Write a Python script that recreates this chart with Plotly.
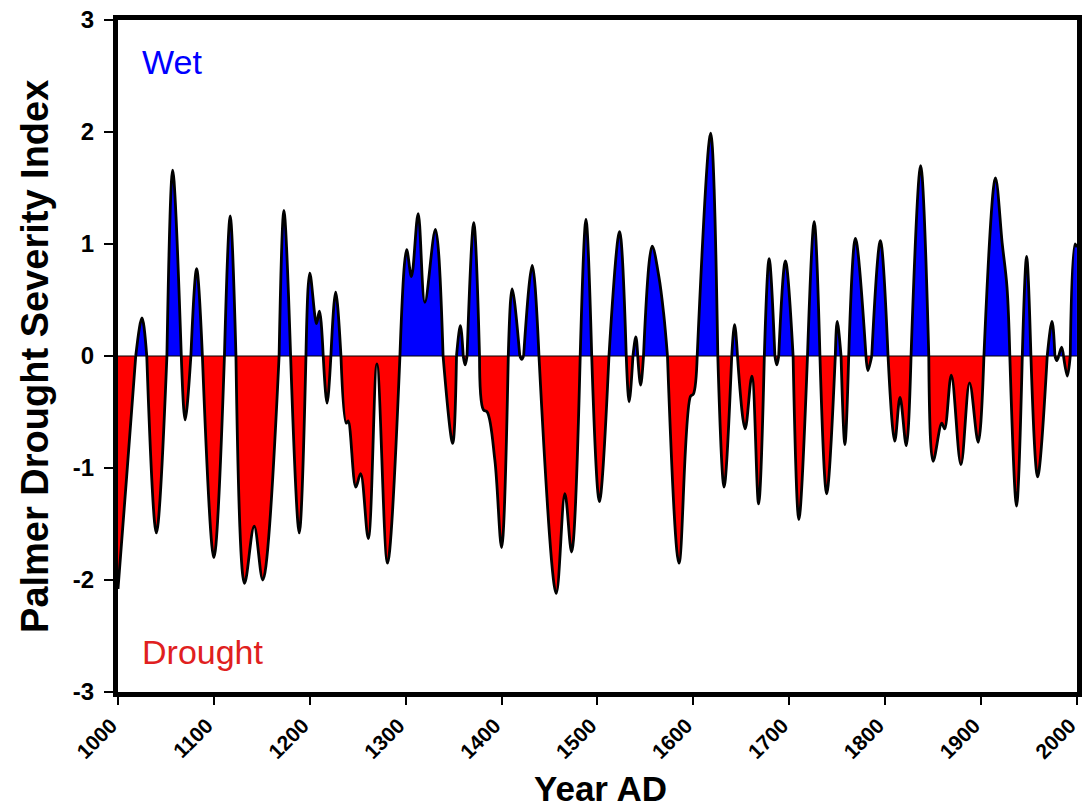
import plotly.graph_objects as go

# Reconstructed Palmer Drought Severity Index, 1000-2000 AD (smoothed)
years = [
    1000, 1009, 1018.5, 1025, 1030, 1040, 1051, 1057, 1066, 1070, 1076, 1082, 1088,
    1100, 1111, 1117, 1123, 1132, 1142, 1151, 1168, 1173, 1180, 1189, 1196,
    1200, 1207, 1210, 1214, 1218, 1222, 1227, 1232.5, 1238, 1240, 1248, 1253,
    1261, 1270, 1281, 1294, 1301, 1306, 1313, 1320, 1331, 1339, 1349, 1353,
    1357, 1360, 1362, 1364, 1371, 1377, 1381, 1385, 1393, 1400, 1407, 1411,
    1419, 1421, 1423, 1432, 1439, 1457, 1466, 1473, 1482, 1488, 1494, 1502,
    1512, 1523, 1530, 1533, 1537, 1540, 1542, 1545, 1548, 1557, 1564, 1569,
    1573, 1585, 1597, 1600, 1604, 1618, 1625.5, 1632, 1640, 1643, 1646, 1654,
    1661, 1668, 1674, 1679, 1685, 1687, 1689, 1696, 1704, 1710, 1719, 1726,
    1732, 1739, 1748, 1750, 1754, 1758, 1762, 1769, 1780, 1782, 1786, 1795,
    1803, 1810, 1815.5, 1822, 1827, 1837, 1845.5, 1850, 1859, 1862, 1869, 1879,
    1888, 1897, 1903, 1915, 1922, 1927, 1930, 1937, 1943, 1947.5, 1952, 1959,
    1969, 1974, 1977, 1979, 1981, 1984, 1986, 1990, 1993, 1998, 2000,
]
pdsi = [
    -2.08, -1.08, 0, 0.34, 0, -1.58, 0, 1.66, 0, -0.57, 0, 0.78, 0,
    -1.80, 0, 1.25, 0, -2.03, -1.52, -2.00, 0, 1.30, 0, -1.58, 0,
    0.74, 0.29, 0.40, 0, -0.42, 0, 0.57, 0, -0.60, -0.58, -1.17, -1.05,
    -1.63, -0.07, -1.85, 0, 0.95, 0.71, 1.27, 0.48, 1.13, 0, -0.78, 0,
    0.27, 0, -0.08, 0, 1.19, 0, -0.48, -0.50, -0.93, -1.71, 0, 0.60,
    0, -0.03, 0, 0.81, 0, -2.12, -1.23, -1.75, 0, 1.22, 0, -1.30,
    0, 1.11, 0, -0.41, 0, 0.17, 0, -0.26, 0, 0.98, 0.71, 0.38,
    0, -1.85, -0.36, -0.34, 0, 1.99, 0, -1.17, 0, 0.28, 0, -0.65,
    -0.18, -1.32, 0, 0.87, 0, -0.08, 0, 0.85, 0, -1.46, 0, 1.20,
    0, -1.23, 0, 0.31, 0, -0.79, 0, 1.05, 0, -0.13, 0, 1.03,
    0, -0.76, -0.37, -0.80, 0, 1.70, 0, -0.94, -0.60, -0.65, -0.17, -0.97,
    -0.24, -0.77, 0, 1.59, 1.01, 0.62, 0, -1.34, 0, 0.89, 0, -1.08,
    0, 0.31, 0, -0.04, 0, 0.08, 0, -0.18, 0, 1.00, 0.97,
]

y_ticks = [-3, -2, -1, 0, 1, 2, 3]
y_tick_text = ["-3", "-2", "-1", "0", "1", "2", "3"]
x_ticks = [1000, 1100, 1200, 1300, 1400, 1500, 1600, 1700, 1800, 1900, 2000]
x_tick_text = ["1000", "1100", "1200", "1300", "1400", "1500",
               "1600", "1700", "1800", "1900", "2000"]

WET = "#0000ff"
DRY = "#ff0000"
FONT = "Liberation Sans, Arial, sans-serif"

# Split the series into wet (>= 0) and dry (<= 0) runs; zero crossings belong to both
wet_y = [v if v >= 0 else None for v in pdsi]
dry_y = [v if v <= 0 else None for v in pdsi]

fig = go.Figure()
for ys, col in ((dry_y, DRY), (wet_y, WET)):
    fig.add_trace(go.Scatter(
        x=years, y=ys, mode="lines", fill="tozeroy", fillcolor=col,
        line=dict(color="black", width=2.8, shape="spline", smoothing=1),
        connectgaps=False, hoverinfo="skip", showlegend=False,
    ))

# baseline at zero
fig.add_shape(type="line", xref="paper", yref="y", x0=0, x1=1, y0=0, y1=0,
              line=dict(color="black", width=1.2), layer="above")

fig.update_xaxes(
    range=[1000, 2000.05], tickmode="array", tickvals=x_ticks,
    ticktext=["<b>%s</b>" % t for t in x_tick_text], tickangle=-45,
    tickfont=dict(family=FONT, size=21, color="black"),
    ticklabelshift=-7, ticklabeloverflow="allow", automargin=False,
    showline=True, linecolor="black", linewidth=5, mirror=True,
    ticks="outside", ticklen=8, tickwidth=1.5, tickcolor="black",
    showgrid=False, zeroline=False,
)
fig.update_yaxes(
    range=[-3, 3], tickmode="array", tickvals=y_ticks,
    ticktext=["<b>%s</b>" % t for t in y_tick_text],
    tickfont=dict(family=FONT, size=24, color="black"),
    ticklabelstandoff=5, automargin=False,
    showline=True, linecolor="black", linewidth=5, mirror=True,
    ticks="outside", ticklen=9, tickwidth=1.5, tickcolor="black",
    showgrid=False, zeroline=False,
)

fig.add_annotation(text="<b>Palmer Drought Severity Index</b>", xref="paper", yref="paper",
                   x=-0.0866, y=0.5, xanchor="center", yanchor="middle", textangle=-90,
                   showarrow=False, font=dict(family=FONT, size=38, color="black"))
fig.add_annotation(text="<b>Year AD</b>", xref="paper", yref="paper",
                   x=0.503, y=-0.144, xanchor="center", yanchor="middle",
                   showarrow=False, font=dict(family=FONT, size=35, color="black"))
fig.add_annotation(text="Wet", xref="paper", yref="paper", x=0.023, y=0.9375,
                   xanchor="left", yanchor="middle", showarrow=False,
                   font=dict(family=FONT, size=34, color=WET))
fig.add_annotation(text="Drought", xref="paper", yref="paper", x=0.023, y=0.0595,
                   xanchor="left", yanchor="middle", showarrow=False,
                   font=dict(family=FONT, size=34, color="#e02020"))

fig.update_layout(
    width=1082, height=808,
    margin=dict(l=118, r=5, t=20, b=116),
    paper_bgcolor="white", plot_bgcolor="white",
    font=dict(family=FONT, color="black"),
)

fig.write_html("out.html")
